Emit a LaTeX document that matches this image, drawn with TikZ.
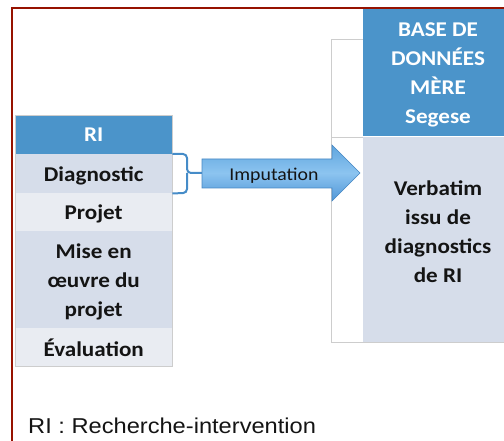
\documentclass[tikz,border=0pt]{standalone}
\usepackage{fontspec}
\setmainfont{Carlito}[FakeStretch=1.1]
\newfontfamily\arialfont{Liberation Sans}[FakeStretch=1.1]
\definecolor{hdrblue}{RGB}{75,148,202}
\definecolor{rowA}{RGB}{214,221,234}
\definecolor{rowB}{RGB}{233,236,242}
\definecolor{framered}{RGB}{150,18,0}
\definecolor{bracecol}{RGB}{70,140,200}
\definecolor{txt}{RGB}{20,20,20}
\definecolor{edgegray}{RGB}{205,205,205}
\definecolor{arrtop}{RGB}{95,165,222}
\definecolor{arrmid}{RGB}{140,196,240}
\definecolor{arrbot}{RGB}{80,150,215}
\definecolor{arredge}{RGB}{70,135,195}
\begin{document}
\begin{tikzpicture}[x=1pt,y=-1pt,
  cell/.style={anchor=north west,inner sep=0pt,minimum width=157pt,align=center,
    font=\fontsize{21}{29}\selectfont\bfseries,text=txt,text depth=0pt},
  hdr/.style={fill=hdrblue,text=white},
  ra/.style={fill=rowA},
  rb/.style={fill=rowB}]
\useasboundingbox (0,0) rectangle (504,441);
% frame
\draw[framered,line width=2pt] (12,450) -- (12,8) -- (520,8);
% backing white box
\node[draw=edgegray,fill=white,line width=0.8pt,anchor=north west,inner sep=0pt,minimum width=200pt,minimum height=303pt] (back) at (331,39) {};
\draw[edgegray,line width=0.6pt] (331,137) -- (363,137);
% right column
\node[anchor=north west,inner sep=0pt,minimum width=150pt,minimum height=127pt,fill=hdrblue] (base) at (363,9) {};
\node[text=white,align=center,font=\fontsize{21}{29}\selectfont\bfseries] (basetxt) at (438,75) {BASE DE\\DONNÉES\\MÈRE\\Segese};
\node[anchor=north west,inner sep=0pt,minimum width=150pt,minimum height=205pt,fill=rowA] (verb) at (363,137) {};
\node[text=txt,align=center,font=\fontsize{21}{29}\selectfont\bfseries] (verbtxt) at (438,232) {Verbatim\\issu de\\diagnostics\\de RI};
% left table
\node[cell,hdr,minimum height=39pt] (ri) at (15,115) {RI};
\node[cell,ra,minimum height=39pt] (diag) at (15,154) {Diagnostic};
\node[cell,rb,minimum height=38pt] (proj) at (15,193) {Projet};
\node[cell,ra,minimum height=97pt] (mise) at (15,231) {Mise en\\œuvre du\\projet};
\node[cell,rb,minimum height=38pt] (eval) at (15,328) {Évaluation};
\draw[edgegray,line width=0.6pt] (ri.north west) rectangle (eval.south east);
% brace
\coordinate (btip) at (202,173);
\draw[bracecol,line width=2pt,rounded corners=4pt] (diag.north east) -- (187,154) -- (187,173) -- (btip);
\draw[bracecol,line width=2pt,rounded corners=4pt] (diag.south east) -- (187,193) -- (187,173);
% arrow
\shade[top color=arrtop,bottom color=arrbot,middle color=arrmid,draw=arredge,line width=0.6pt]
  (btip) -- (202,159) -- (332,159) -- (332,145) -- (360,173) -- (332,201) -- (332,188) -- (202,188) -- cycle;
\node[text=txt,font=\fontsize{18}{20}\selectfont] (imp) at (274,176) {Imputation};
% footer
\node[anchor=base west,inner sep=0pt,text=txt,font=\arialfont\fontsize{21.5}{24}\selectfont] (foot) at (28,433) {RI : Recherche-intervention};
\end{tikzpicture}
\end{document}
